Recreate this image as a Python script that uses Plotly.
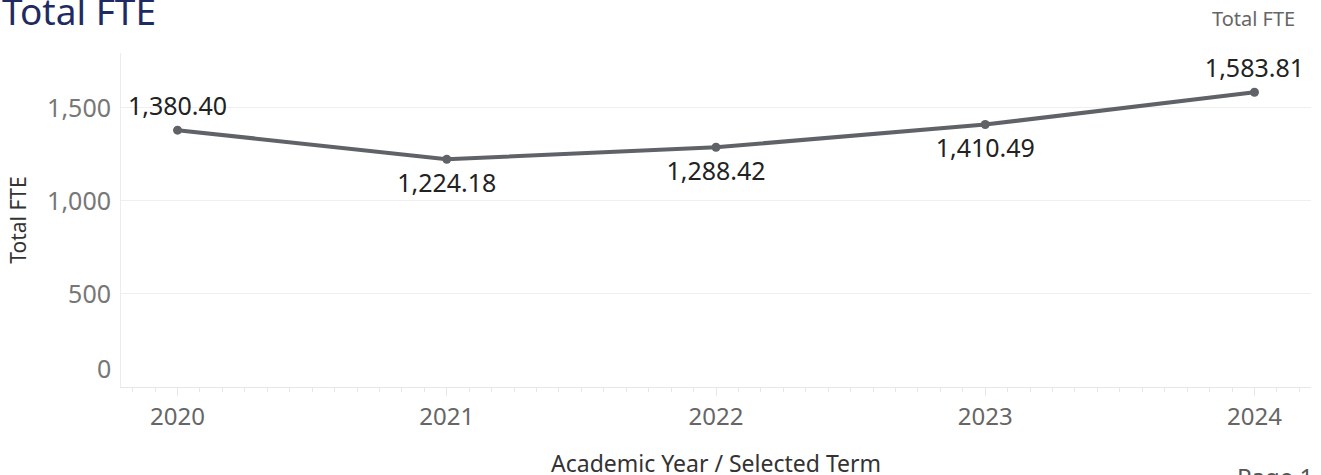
import plotly.graph_objects as go

years = [2020, 2021, 2022, 2023, 2024]
fte = [1380.40, 1224.18, 1288.42, 1410.49, 1583.81]
label_pos = ["top center", "bottom center", "bottom center", "bottom center", "top center"]
y_ticks = [0, 500, 1000, 1500]
y_tick_text = ["0", "500", "1,000", "1,500"]

FONT = "Noto Sans"
LINE = "#5f6368"

# invisible marker sizes that set how far each value label sits from its point
label_gap = [13 if p.startswith("top") else 21 for p in label_pos]

fig = go.Figure()
fig.add_trace(go.Scatter(
    x=years, y=fte,
    mode="lines+markers",
    line=dict(color=LINE, width=4),
    marker=dict(color=LINE, size=9),
    hoverinfo="skip",
))
fig.add_trace(go.Scatter(
    x=years, y=fte,
    mode="markers+text",
    marker=dict(size=label_gap, opacity=0),
    text=[f"{v:,.2f}" for v in fte],
    textposition=label_pos,
    textfont=dict(family=FONT, size=25, color="#222222"),
    cliponaxis=False,
    hoverinfo="skip",
))

fig.update_layout(
    width=1321, height=475,
    margin=dict(l=121, r=10, t=53, b=88),
    paper_bgcolor="white", plot_bgcolor="white",
    showlegend=False,
    font=dict(family=FONT),
    xaxis=dict(
        range=[2019.79, 2024.21],
        tickvals=years,
        ticktext=[str(y) for y in years],
        tickfont=dict(family=FONT, size=24, color="#666666"),
        ticks="outside", ticklen=8, tickcolor="#e6e6e6", tickwidth=1,
        ticklabelstandoff=0,
        minor=dict(tick0=2020, dtick=1/12, ticks="outside", ticklen=4,
                   tickcolor="#e6e6e6", showgrid=False),
        showgrid=False, zeroline=False,
        showline=True, linecolor="#e6e6e6", linewidth=1,
        automargin=False,
        fixedrange=True,
    ),
    yaxis=dict(
        range=[0, 1795],
        tickvals=y_ticks[1:],
        ticktext=y_tick_text[1:],
        tickfont=dict(family=FONT, size=25, color="#777777"),
        ticks="", ticklabelstandoff=4,
        showgrid=True, gridcolor="#efefef", gridwidth=1,
        zeroline=False,
        showline=True, linecolor="#ececec", linewidth=1,
        automargin=False,
        title=dict(text="Total FTE", font=dict(family=FONT, size=21, color="#333333"),
                   standoff=14),
        fixedrange=True,
    ),
    annotations=[
        dict(text="Total FTE", xref="paper", yref="paper", x=-0.102, y=1.128,
             xanchor="left", yanchor="middle", showarrow=False,
             font=dict(family=FONT, size=37, color="#1f2a63")),
        dict(text="Total FTE", xref="paper", yref="paper", x=0.988, y=1.102,
             xanchor="right", yanchor="middle", showarrow=False,
             font=dict(family=FONT, size=20, color="#666666")),
        dict(text=y_tick_text[0], xref="paper", yref="y", x=0, y=y_ticks[0],
             xanchor="right", yanchor="bottom", xshift=-8, yshift=0, showarrow=False,
             font=dict(family=FONT, size=25, color="#777777")),
        dict(text="Academic Year / Selected Term", xref="paper", yref="paper",
             x=0.5, y=-0.228, xanchor="center", yanchor="middle", showarrow=False,
             font=dict(family=FONT, size=23, color="#333333")),
        dict(text="Page 1", xref="paper", yref="paper", x=1.003, y=-0.268,
             xanchor="right", yanchor="middle", showarrow=False,
             font=dict(family=FONT, size=24, color="#555555")),
    ],
)

fig.write_html("out.html", config={"displayModeBar": False},
               post_script="document.body.style.margin='0px';")
